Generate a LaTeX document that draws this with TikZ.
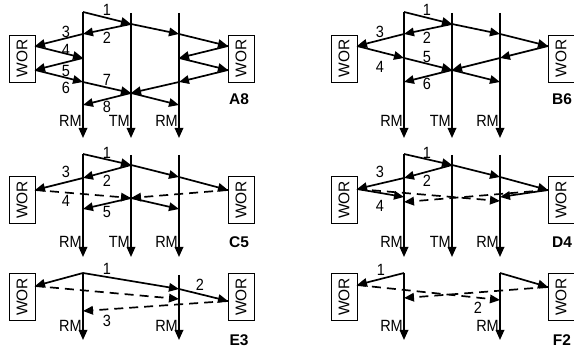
\documentclass[tikz,border=0pt]{standalone}
\usepackage{fontspec}
\usepackage{graphicx}
\setmainfont{Liberation Sans}
\usetikzlibrary{arrows.meta}
% text in this figure is set slightly tall
\newcommand{\talltext}[1]{\scalebox{1}[1.12]{#1}}
\begin{document}
\begin{tikzpicture}[x=1pt,y=-1pt,
  arr/.style={line width=1.7pt,line join=miter,-{Triangle[length=10pt,width=8.5pt]}},
  darr/.style={arr,dash pattern=on 9pt off 6pt},
  wor/.style={draw,line width=0.7pt,minimum width=47pt,minimum height=26pt,
    rotate=90,inner sep=0pt,font=\fontsize{15.5}{16}\selectfont},
  num/.style={inner sep=0pt,font=\fontsize{14.5}{15}\selectfont},
  lbl/.style={inner sep=0pt,anchor=east,font=\fontsize{14.5}{15}\selectfont},
  tag/.style={inner sep=0pt,font=\fontsize{15.5}{16}\selectfont\bfseries}]
\useasboundingbox (0,0) rectangle (574,350);

% ---------------- A8 ----------------
\node[wor] (Awl) at (22,58.5) {WOR};
\node[wor] (Awr) at (241,58.5) {WOR};
\coordinate (Aa) at (83,12);   \coordinate (Aab) at (83,138);
\coordinate (Ats) at (131,13); \coordinate (Atb) at (131,138);
\coordinate (Ars) at (179,13); \coordinate (Arb) at (179,138);
\coordinate (At1) at (131,24);
\coordinate (Al1) at (83,34);   \coordinate (Ar1) at (179,34);
\coordinate (Awl1) at (35,46);  \coordinate (Awr1) at (228,46);
\coordinate (Al2) at (83,58);   \coordinate (Ar2) at (179,58);
\coordinate (Awl2) at (35,70);  \coordinate (Awr2) at (228,70);
\coordinate (Al3) at (83,82);   \coordinate (Ar3) at (179,82);
\coordinate (At2) at (131,93);
\coordinate (Al4) at (83,105);  \coordinate (Ar4) at (179,105);
\draw[arr] (Aa) -- (Aab);
\draw[arr] (Ats) -- (Atb);
\draw[arr] (Ars) -- (Arb);
\draw[arr] (Aa) -- (At1);
\draw[arr] (At1) -- (Ar1);
\draw[arr] (Ar1) -- (Awr1);
\draw[arr] (Awr1) -- (Ar2);
\draw[arr] (Ar2) -- (Awr2);
\draw[arr] (Awr2) -- (Ar3);
\draw[arr] (Ar3) -- (At2);
\draw[arr] (At2) -- (Ar4);
\draw[arr] (At1) -- (Al1);
\draw[arr] (Al1) -- (Awl1);
\draw[arr] (Awl1) -- (Al2);
\draw[arr] (Al2) -- (Awl2);
\draw[arr] (Awl2) -- (Al3);
\draw[arr] (Al3) -- (At2);
\draw[arr] (At2) -- (Al4);
\node[num] (An1) at (107,10) {\talltext{1}};
\node[num] (An2) at (107,38) {\talltext{2}};
\node[num] (An3) at (66,32) {\talltext{3}};
\node[num] (An4) at (66,50) {\talltext{4}};
\node[num] (An5) at (66,71) {\talltext{5}};
\node[num] (An6) at (66,88) {\talltext{6}};
\node[num] (An7) at (107,80) {\talltext{7}};
\node[num] (An8) at (107,107) {\talltext{8}};
\node[lbl] (Ar) at (82,121) {\talltext{RM}};
\node[lbl] (At) at (130,121) {\talltext{TM}};
\node[lbl] (Arr) at (178,121) {\talltext{RM}};
\node[tag] (Atag) at (239,99) {A8};

% ---------------- B6 ----------------
\node[wor] (Bwl) at (344,58.5) {WOR};
\node[wor] (Bwr) at (561,58.5) {WOR};
\coordinate (Ba) at (404,12);   \coordinate (Bab) at (404,138);
\coordinate (Bts) at (452,13);  \coordinate (Btb) at (452,138);
\coordinate (Brs) at (500,13);  \coordinate (Brb) at (500,138);
\coordinate (Bt1) at (452,24);
\coordinate (Bl1) at (404,34);  \coordinate (Br1) at (500,34);
\coordinate (Bwl1) at (357,46); \coordinate (Bwr1) at (548,46);
\coordinate (Bl2) at (404,58);  \coordinate (Br2) at (500,58);
\coordinate (Bt2) at (452,70);
\coordinate (Bl3) at (404,82);  \coordinate (Br3) at (500,82);
\draw[arr] (Ba) -- (Bab);
\draw[arr] (Bts) -- (Btb);
\draw[arr] (Brs) -- (Brb);
\draw[arr] (Ba) -- (Bt1);
\draw[arr] (Bt1) -- (Br1);
\draw[arr] (Br1) -- (Bwr1);
\draw[arr] (Bwr1) -- (Br2);
\draw[arr] (Br2) -- (Bt2);
\draw[arr] (Bt2) -- (Br3);
\draw[arr] (Bt1) -- (Bl1);
\draw[arr] (Bl1) -- (Bwl1);
\draw[arr] (Bwl1) -- (Bl2);
\draw[arr] (Bl2) -- (Bt2);
\draw[arr] (Bt2) -- (Bl3);
\node[num] (Bn1) at (427,10) {\talltext{1}};
\node[num] (Bn2) at (427,38) {\talltext{2}};
\node[num] (Bn3) at (380,32) {\talltext{3}};
\node[num] (Bn4) at (380,67) {\talltext{4}};
\node[num] (Bn5) at (427,57) {\talltext{5}};
\node[num] (Bn6) at (427,84) {\talltext{6}};
\node[lbl] (Br) at (403,121) {\talltext{RM}};
\node[lbl] (Bt) at (451,121) {\talltext{TM}};
\node[lbl] (Brr) at (499,121) {\talltext{RM}};
\node[tag] (Btag) at (562,99) {B6};

% ---------------- C5 ----------------
\node[wor] (Cwl) at (22,200) {WOR};
\node[wor] (Cwrb) at (241,200) {WOR};
\coordinate (Ca) at (83,154);   \coordinate (Cab) at (83,257);
\coordinate (Cts) at (131,155); \coordinate (Ctb) at (131,257);
\coordinate (Crs) at (179,155); \coordinate (Crb) at (179,257);
\coordinate (Ct1) at (131,165);
\coordinate (Cl1) at (83,178);  \coordinate (Cr1) at (179,177);
\coordinate (Cw1) at (35,190);  \coordinate (Cw2) at (228,190);
\coordinate (Ct2) at (131,198);
\coordinate (Cl2) at (83,209);  \coordinate (Cr2) at (179,209);
\draw[arr] (Ca) -- (Cab);
\draw[arr] (Cts) -- (Ctb);
\draw[arr] (Crs) -- (Crb);
\draw[arr] (Ca) -- (Ct1);
\draw[arr] (Ct1) -- (Cr1);
\draw[arr] (Cr1) -- (Cw2);
\draw[arr] (Ct1) -- (Cl1);
\draw[arr] (Cl1) -- (Cw1);
\draw[darr] (Cw1) -- (Ct2);
\draw[darr] (Cw2) -- (Ct2);
\draw[arr] (Ct2) -- (Cl2);
\draw[arr] (Ct2) -- (Cr2);
\node[num] (Cn1) at (107,153) {\talltext{1}};
\node[num] (Cn2) at (107,181) {\talltext{2}};
\node[num] (Cn3) at (66,172) {\talltext{3}};
\node[num] (Cn4) at (66,201) {\talltext{4}};
\node[num] (Cn5) at (107,212) {\talltext{5}};
\node[lbl] (Cr) at (82,242) {\talltext{RM}};
\node[lbl] (Ct) at (130,242) {\talltext{TM}};
\node[lbl] (Crr) at (178,242) {\talltext{RM}};
\node[tag] (Ctag) at (239,242) {C5};

% ---------------- D4 ----------------
\node[wor] (Dwl) at (344,200) {WOR};
\node[wor] (Dwrb) at (561,200) {WOR};
\coordinate (Da) at (404,154);  \coordinate (Dab) at (404,257);
\coordinate (Dts) at (452,155); \coordinate (Dtb) at (452,257);
\coordinate (Drs) at (500,155); \coordinate (Drb) at (500,257);
\coordinate (Dt1) at (452,165);
\coordinate (Dl1) at (404,178); \coordinate (Dr1) at (500,177);
\coordinate (Dw1) at (357,189); \coordinate (Dw2) at (548,190);
\coordinate (Dl2) at (404,197); \coordinate (Dr2) at (500,197);
\coordinate (Dl3) at (404,202); \coordinate (Dr3) at (500,201);
\draw[arr] (Da) -- (Dab);
\draw[arr] (Dts) -- (Dtb);
\draw[arr] (Drs) -- (Drb);
\draw[arr] (Da) -- (Dt1);
\draw[arr] (Dt1) -- (Dr1);
\draw[arr] (Dr1) -- (Dw2);
\draw[arr] (Dt1) -- (Dl1);
\draw[arr] (Dl1) -- (Dw1);
\draw[arr] (Dw1) -- (Dl2);
\draw[arr] (Dw2) -- (Dr2);
\draw[darr] (Dw1) -- (Dr3);
\draw[darr] (Dw2) -- (Dl3);
\node[num] (Dn1) at (427,153) {\talltext{1}};
\node[num] (Dn2) at (427,181) {\talltext{2}};
\node[num] (Dn3) at (380,172) {\talltext{3}};
\node[num] (Dn4) at (380,206) {\talltext{4}};
\node[lbl] (Dr) at (403,242) {\talltext{RM}};
\node[lbl] (Dt) at (451,242) {\talltext{TM}};
\node[lbl] (Drr) at (499,242) {\talltext{RM}};
\node[tag] (Dtag) at (562,242) {D4};

% ---------------- E3 ----------------
\node[wor] (Ewl) at (22,297) {WOR};
\node[wor] (Ewrb) at (241,297) {WOR};
\coordinate (Ea) at (83,273);   \coordinate (Eab) at (83,340);
\coordinate (Ers) at (179,275); \coordinate (Erb) at (179,340);
\coordinate (Ew1) at (35,286);  \coordinate (Er1) at (179,289);
\coordinate (Ew2) at (228,301); \coordinate (Er2) at (179,299);
\coordinate (El1) at (83,311);
\draw[arr] (Ea) -- (Eab);
\draw[arr] (Ers) -- (Erb);
\draw[arr] (Ea) -- (Ew1);
\draw[arr] (Ea) -- (Er1);
\draw[arr] (Er1) -- (Ew2);
\draw[darr] (Ew1) -- (Er2);
\draw[darr] (Ew2) -- (El1);
\node[num] (En1) at (107,269) {\talltext{1}};
\node[num] (En2) at (200,285) {\talltext{2}};
\node[num] (En3) at (107,321) {\talltext{3}};
\node[lbl] (Er) at (82,326) {\talltext{RM}};
\node[lbl] (Err) at (178,326) {\talltext{RM}};
\node[tag] (Etag) at (239,340) {E3};

% ---------------- F2 ----------------
\node[wor] (Fwl) at (344,297) {WOR};
\node[wor] (Fwrb) at (561,297) {WOR};
\coordinate (Fa) at (404,273);  \coordinate (Fab) at (404,340);
\coordinate (Fb) at (500,273);  \coordinate (Fbb) at (500,340);
\coordinate (Fw1) at (357,285); \coordinate (Fw2) at (548,287);
\coordinate (Fl) at (404,298);  \coordinate (Fr) at (500,300);
\draw[arr] (Fa) -- (Fab);
\draw[arr] (Fb) -- (Fbb);
\draw[arr] (Fa) -- (Fw1);
\draw[arr] (Fb) -- (Fw2);
\draw[darr] (Fw1) -- (Fr);
\draw[darr] (Fw2) -- (Fl);
\node[num] (Fn1) at (381,270) {\talltext{1}};
\node[num] (Fn2) at (478,308) {\talltext{2}};
\node[lbl] (Fr1) at (403,326) {\talltext{RM}};
\node[lbl] (Fr2) at (499,326) {\talltext{RM}};
\node[tag] (Ftag) at (562,340) {F2};
\end{tikzpicture}
\end{document}
